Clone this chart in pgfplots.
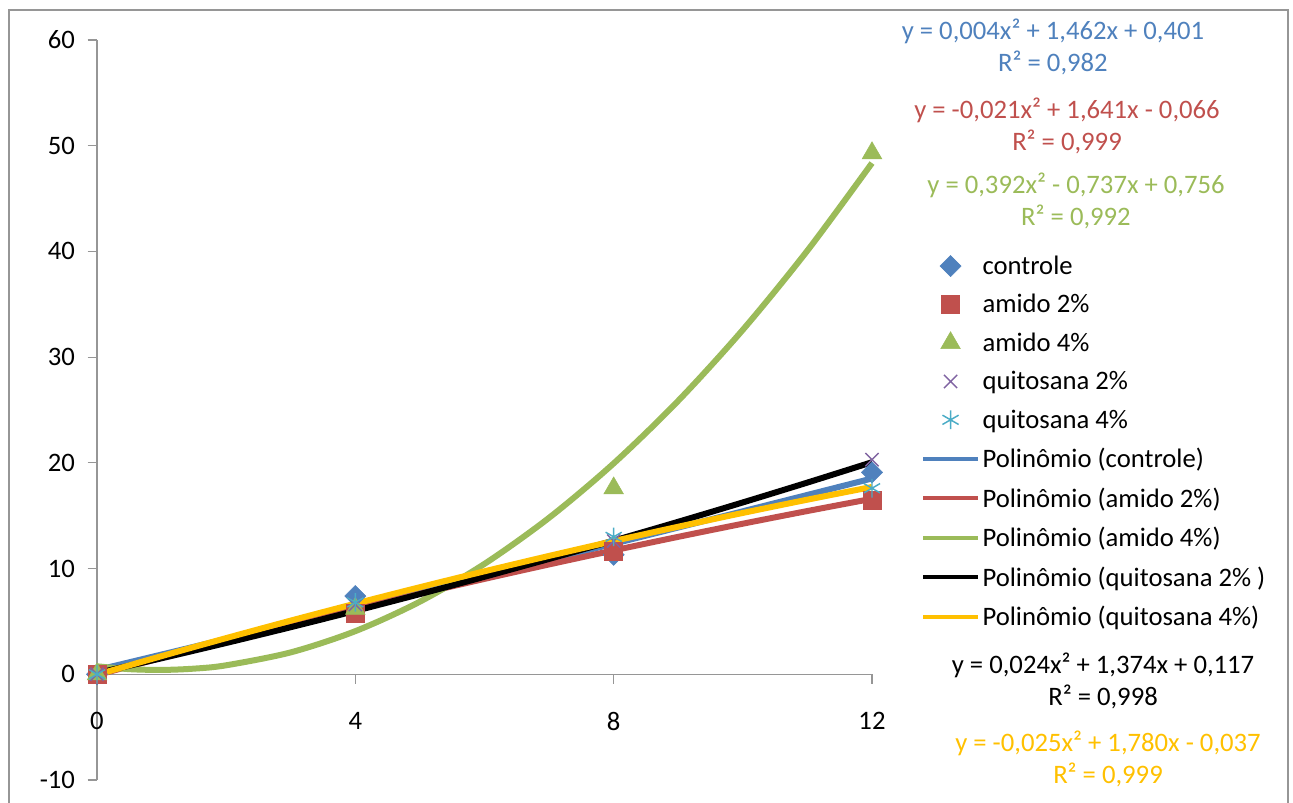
\documentclass[border=0pt]{standalone}
\usepackage{fontspec}
\setmainfont{Carlito}
\usepackage{pgfplots}
\pgfplotsset{compat=1.18}

\definecolor{cBlue}{HTML}{4F81BD}
\definecolor{cRed}{HTML}{C0504D}
\definecolor{cGreen}{HTML}{9BBB59}
\definecolor{cPurple}{HTML}{8064A2}
\definecolor{cCyan}{HTML}{4BACC6}
\definecolor{cOrange}{HTML}{FFC000}
\definecolor{axgray}{HTML}{969696}

\newcommand{\chartfont}{\fontsize{20pt}{24pt}\selectfont}

\pgfplotsset{
  markentry/.style={legend image code/.code={\draw[##1] plot coordinates {(20.5pt,0pt)};}},
  lineentry/.style={legend image code/.code={\draw[##1,line width=3pt] (0pt,0pt) -- (41pt,0pt);}},
  trend/.style={no marks, line width=4.5pt, smooth, lineentry},
}

\begin{document}
\begin{tikzpicture}
\path[use as bounding box] (-72.75pt,-17.25pt) rectangle (897pt,585pt);
\begin{axis}[
  at={(0pt,0pt)}, anchor=south west,
  scale only axis, width=581.25pt, height=555pt,
  xmin=0, xmax=12, ymin=-10, ymax=60,
  axis x line=middle, axis y line=left,
  hide obscured x ticks=false,
  axis line style={draw=axgray, line width=0.9pt, -},
  xtick={0,4,8,12}, ytick={-10,0,10,20,30,40,50,60},
  tick align=outside, major tick length=7pt,
  tick style={draw=axgray, line width=0.9pt},
  font=\chartfont,
  /pgf/number format/assume math mode=true,
  xticklabel style={yshift=-18pt},
  yticklabel style={xshift=-6pt},
  clip=false,
  legend cell align=left,
  legend style={at={(axis description cs:1.058,0.716)}, anchor=north west,
    draw=none, fill=none, font=\chartfont, row sep=9.5pt},
]
% measured points
\addplot[only marks, mark=square*, mark size=5.6pt, mark options={rotate=45, fill=cBlue, draw=cBlue}, markentry]
  coordinates {(0,0) (4,7.4) (8,11.3) (12,19.1)};
\addlegendentry{controle}
\addplot[only marks, mark=square*, mark size=6.8pt, mark options={fill=cRed, draw=cRed}, markentry]
  coordinates {(0,0) (4,5.8) (8,11.6) (12,16.5)};
\addlegendentry{amido 2\%}
\addplot[only marks, mark=triangle*, mark size=8.5pt, mark options={fill=cGreen, draw=cGreen}, markentry]
  coordinates {(0,0) (4,6.2) (8,17.6) (12,49.3)};
\addlegendentry{amido 4\%}
\addplot[only marks, mark=x, mark size=7pt, mark options={draw=cPurple, line width=1.1pt}, markentry]
  coordinates {(0,0) (4,6.6) (8,12.6) (12,20.3)};
\addlegendentry{quitosana 2\%}
\addplot[only marks, mark=asterisk, mark size=7pt, mark options={draw=cCyan, line width=1.1pt}, markentry]
  coordinates {(0,0) (4,6.8) (8,13.0) (12,17.6)};
\addlegendentry{quitosana 4\%}
% second-order trend lines
\addplot[trend, cBlue] coordinates {(0,0.401) (1,1.867) (2,3.341) (3,4.823) (4,6.313) (5,7.811) (6,9.317) (7,10.831) (8,12.353) (9,13.883) (10,15.421) (11,16.967) (12,18.521)};
\addlegendentry{Polinômio (controle)}
\addplot[trend, cRed] coordinates {(0,-0.066) (1,1.554) (2,3.132) (3,4.668) (4,6.162) (5,7.614) (6,9.024) (7,10.392) (8,11.718) (9,13.002) (10,14.244) (11,15.444) (12,16.602)};
\addlegendentry{Polinômio (amido 2\%)}
\addplot[trend, cGreen] coordinates {(0,0.756) (0.5,0.486) (1,0.411) (1.5,0.533) (2,0.850) (3,2.073) (4,4.080) (5,6.871) (6,10.446) (7,14.805) (8,19.948) (9,25.875) (10,32.586) (11,40.081) (12,48.360)};
\addlegendentry{Polinômio (amido 4\%)}
\addplot[trend, black] coordinates {(0,0.117) (1,1.515) (2,2.961) (3,4.455) (4,5.997) (5,7.587) (6,9.225) (7,10.911) (8,12.645) (9,14.427) (10,16.257) (11,18.135) (12,20.061)};
\addlegendentry{Polinômio (quitosana 2\% )}
\addplot[trend, cOrange] coordinates {(0,-0.037) (1,1.718) (2,3.423) (3,5.078) (4,6.683) (5,8.238) (6,9.743) (7,11.198) (8,12.603) (9,13.958) (10,15.263) (11,16.518) (12,17.723)};
\addlegendentry{Polinômio (quitosana 4\%)}
% fitted equations
\node[align=center, text=cBlue, font=\chartfont] at (axis description cs:1.2335,0.9905) {y = 0,004x² + 1,462x + 0,401\\R² = 0,982};
\node[align=center, text=cRed, font=\chartfont] at (axis description cs:1.2516,0.8838) {y = -0,021x² + 1,641x - 0,066\\R² = 0,999};
\node[align=center, text=cGreen, font=\chartfont] at (axis description cs:1.2632,0.7824) {y = 0,392x² - 0,737x + 0,756\\R² = 0,992};
\node[align=center, text=black, font=\chartfont] at (axis description cs:1.2981,0.1338) {y = 0,024x² + 1,374x + 0,117\\R² = 0,998};
\node[align=center, text=cOrange, font=\chartfont] at (axis description cs:1.3045,0.0284) {y = -0,025x² + 1,780x - 0,037\\R² = 0,999};
\end{axis}
\draw[axgray, line width=0.9pt] (-66pt,-40pt) -- (-66pt,577.5pt) -- (893.25pt,577.5pt) -- (893.25pt,-40pt);
\end{tikzpicture}
\end{document}
